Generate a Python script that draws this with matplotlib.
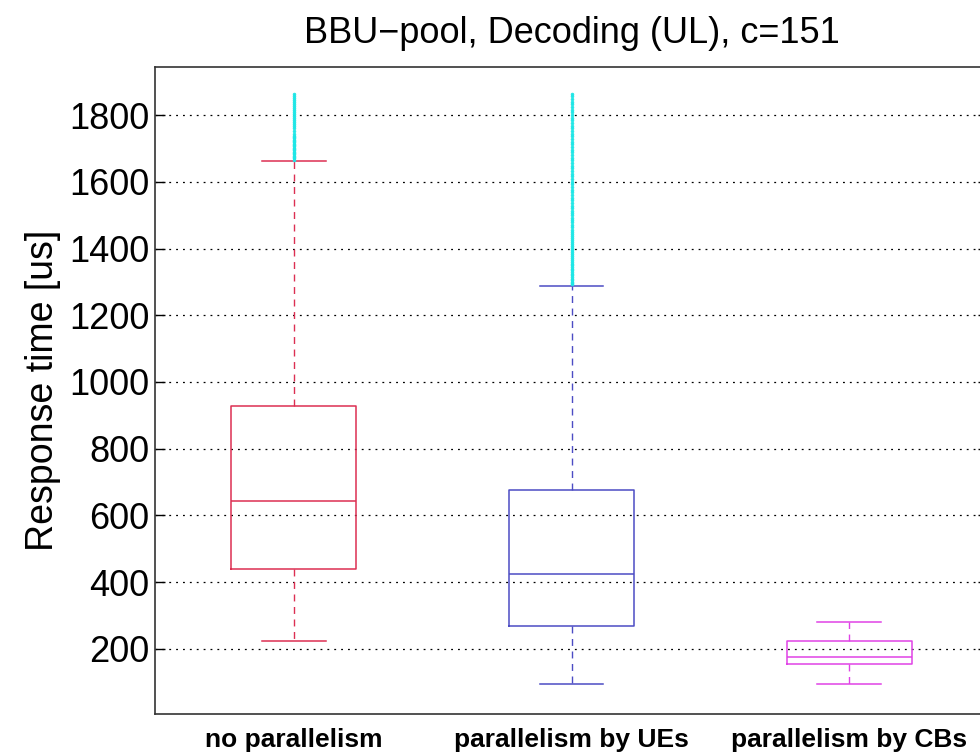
import matplotlib
matplotlib.use("Agg")
import matplotlib.pyplot as plt

# ---- data ----
categories = ["no parallelism", "parallelism by UEs", "parallelism by CBs"]
q1 = [440, 269, 155]
medians = [644, 425, 177]
q3 = [928, 676, 225]
whisker_low = [225, 95, 95]
whisker_high = [1662, 1289, 281]
fliers_no_par = [1666, 1670, 1674, 1678, 1682, 1686, 1690, 1694, 1698, 1702,
                 1706, 1710, 1714, 1718, 1722, 1726, 1730, 1734, 1738, 1744,
                 1752, 1760, 1768, 1774, 1780, 1786, 1792, 1798, 1804, 1810,
                 1816, 1822, 1828, 1834, 1840, 1846, 1852, 1858, 1862]
fliers_ues = [1293, 1297, 1301, 1305, 1310, 1315, 1320, 1325, 1330, 1335,
              1340, 1345, 1350, 1355, 1360, 1366, 1372, 1378, 1384, 1390,
              1396, 1402, 1408, 1414, 1420, 1426, 1432, 1438, 1444, 1450,
              1457, 1464, 1471, 1478, 1485, 1492, 1499, 1506, 1513, 1520,
              1528, 1536, 1544, 1552, 1560, 1568, 1576, 1584, 1592, 1600,
              1608, 1616, 1624, 1632, 1640, 1648, 1656, 1664, 1672, 1680,
              1688, 1696, 1704, 1712, 1720, 1728, 1736, 1744, 1752, 1760,
              1768, 1776, 1784, 1792, 1800, 1808, 1816, 1824, 1832, 1840,
              1848, 1856, 1862]
fliers_cbs = []
yticks = [200, 400, 600, 800, 1000, 1200, 1400, 1600, 1800]

colors = ["#dc2f52", "#4c4cc4", "#e043e6"]
flier_color = "#1ee6e6"

plt.rcParams['font.family'] = ['Liberation Sans', 'DejaVu Sans']

fig = plt.figure(figsize=(9.8, 7.53), dpi=100)
ax = fig.add_axes([155/980, 1-714/753, (988-155)/980, (714-67)/753])

fliers = [fliers_no_par, fliers_ues, fliers_cbs]
for i in range(3):
    st = [dict(med=medians[i], q1=q1[i], q3=q3[i], whislo=whisker_low[i],
               whishi=whisker_high[i], fliers=fliers[i], label=categories[i])]
    c = colors[i]
    ax.bxp(st, positions=[i + 1], widths=0.45, capwidths=0.23,
           boxprops=dict(color=c, linewidth=1.1),
           medianprops=dict(color=c, linewidth=1.1),
           whiskerprops=dict(color=c, linewidth=1.0, linestyle=(0, (5, 4))),
           capprops=dict(color=c, linewidth=1.1),
           flierprops=dict(marker='o', markersize=2.0, markerfacecolor=flier_color,
                           markeredgecolor=flier_color, markeredgewidth=0.5,
                           linestyle='none'),
           zorder=3)

ax.set_xlim(0.5, 3.5)
ax.set_ylim(5, 1944)
ax.set_yticks(yticks)
ax.set_yticklabels([str(v) for v in yticks], fontsize=26)
ax.set_xticks([1, 2, 3])
ax.set_xticklabels(categories, fontsize=19, fontweight='bold')
ax.tick_params(axis='x', length=0, pad=10)
ax.tick_params(axis='y', direction='in', length=7, width=1, right=True, pad=4)
ax.yaxis.grid(True, linestyle=(0, (1.5, 4)), color='black', linewidth=0.9)
ax.set_axisbelow(True)
for s in ax.spines.values():
    s.set_linewidth(1.2)
    s.set_color('#333333')

ax.set_ylabel("Response time [us]", fontsize=27, labelpad=6)
ax.set_title("BBU\u2212pool, Decoding (UL), c=151", fontsize=26, pad=17)

fig.savefig("out.png", dpi=100)
